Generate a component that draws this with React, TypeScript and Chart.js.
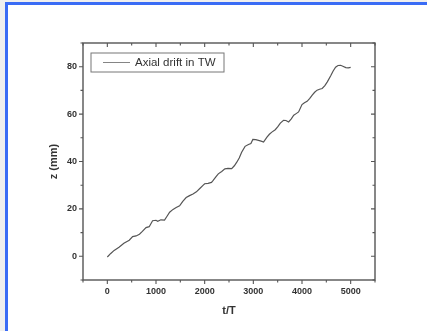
import React, { useEffect, useRef } from "react";
import { Chart, registerables } from "chart.js";

Chart.register(...registerables);

const seriesLabel = "Axial drift in TW";
const tValues = [
  0, 70, 140, 240, 340, 450, 520, 590, 660, 720, 795, 860, 930, 1000, 1035, 1100, 1175, 1230, 1280, 1350,
  1415, 1485, 1550, 1620, 1690, 1760, 1830, 1900, 1960, 2000, 2070, 2140, 2175, 2230, 2280, 2350, 2415,
  2480, 2555, 2610, 2660, 2710, 2760, 2830, 2900, 2950, 2990, 3050, 3105, 3160, 3210, 3280, 3330, 3380,
  3450, 3500, 3555, 3620, 3670, 3725, 3780, 3830, 3880, 3930, 4000, 4050, 4105, 4160, 4210, 4260, 4310,
  4360, 4415, 4470, 4520, 4590, 4640, 4690, 4740, 4795, 4850, 4900, 4950, 5000,
];
const zValues = [
  -0.3, 1.2, 2.5, 3.8, 5.5, 6.8, 8.3, 8.6, 9.3, 10.5, 12.1, 12.5, 15, 15.2, 14.8, 15.4, 15.3, 17, 18.6, 19.8,
  20.6, 21.3, 23.2, 24.8, 25.6, 26.3, 27.2, 28.6, 29.8, 30.6, 30.8, 31.2, 32, 33.5, 34.8, 35.8, 36.9,
  37.1, 37, 38.2, 39.7, 41.5, 43.9, 46.4, 47.2, 47.6, 49.3, 49.2, 48.9, 48.6, 48.2, 50.3, 51.5, 52.4,
  53.4, 54.6, 56.2, 57.4, 57.3, 56.7, 58, 59.5, 60.2, 60.9, 64, 64.8, 65.4, 66.6, 68, 69.2, 70.1,
  70.5, 70.8, 72, 73.6, 76.2, 78.2, 79.8, 80.5, 80.6, 80.1, 79.6, 79.5, 79.7,
];
const xTickLabels = [0, 1000, 2000, 3000, 4000, 5000];
const yTickLabels = [0, 20, 40, 60, 80];
const xTitle = "t/T";
const yTitle = "z (mm)";

const AXIS_COLOR = "#555";
const TEXT_COLOR = "#333";
const FONT = "'Liberation Sans', Arial, sans-serif";

const framePlugin = {
  id: "originFrame",
  afterDraw(chart: any) {
    const { ctx, chartArea } = chart;
    const { left, right, top, bottom } = chartArea;
    const xs = chart.scales.x;
    const ys = chart.scales.y;
    ctx.save();
    ctx.strokeStyle = AXIS_COLOR;
    ctx.lineWidth = 1.4;
    ctx.strokeRect(left, top, right - left, bottom - top);
    ctx.lineWidth = 1.1;
    ctx.beginPath();
    xs.ticks.forEach((t: any) => {
      const major = xTickLabels.includes(t.value);
      const len = major ? 4 : 2.5;
      const px = xs.getPixelForValue(t.value);
      ctx.moveTo(px, bottom);
      ctx.lineTo(px, bottom + len);
      ctx.moveTo(px, top);
      ctx.lineTo(px, top + len);
    });
    ys.ticks.forEach((t: any) => {
      const major = yTickLabels.includes(t.value);
      const len = major ? 4 : 2.5;
      const py = ys.getPixelForValue(t.value);
      ctx.moveTo(left, py);
      ctx.lineTo(left - len, py);
      ctx.moveTo(right, py);
      ctx.lineTo(right - len, py);
    });
    ctx.stroke();

    // legend
    const lx = left + 8;
    const ly = top + 10;
    const lw = 133;
    const lh = 19;
    ctx.strokeStyle = "#777";
    ctx.lineWidth = 1;
    ctx.strokeRect(lx, ly, lw, lh);
    ctx.strokeStyle = "#666";
    ctx.lineWidth = 0.8;
    ctx.beginPath();
    ctx.moveTo(lx + 12, ly + lh / 2);
    ctx.lineTo(lx + 39, ly + lh / 2);
    ctx.stroke();
    ctx.fillStyle = TEXT_COLOR;
    ctx.font = `11.5px ${FONT}`;
    ctx.textBaseline = "middle";
    ctx.textAlign = "left";
    ctx.fillText(chart.data.datasets[0].label, lx + 44, ly + lh / 2 + 0.5);
    ctx.restore();
  },
};

export default function App() {
  const ref = useRef<HTMLCanvasElement>(null);
  useEffect(() => {
    if (!ref.current) return;
    const points = tValues.map((t, i) => ({ x: t, y: zValues[i] }));
    const chart = new Chart(ref.current, {
      type: "line",
      data: {
        datasets: [
          {
            label: seriesLabel,
            data: points,
            borderColor: "#555",
            borderWidth: 1.2,
            pointRadius: 0,
            tension: 0,
            fill: false,
          },
        ],
      },
      options: {
        animation: false,
        responsive: false,
        layout: { padding: { left: 47, right: 52, top: 43, bottom: 13 } },
        plugins: { legend: { display: false }, tooltip: { enabled: false } },
        scales: {
          x: {
            type: "linear",
            min: -500,
            max: 5500,
            grid: { display: false, drawTicks: false },
            border: { display: false },
            afterFit: (s: any) => {
              s.height = 38;
            },
            ticks: {
              stepSize: 500,
              padding: 6,
              maxRotation: 0,
              autoSkip: false,
              color: TEXT_COLOR,
              font: { family: FONT, size: 9, weight: "bold" },
              callback: (v: any) => (xTickLabels.includes(Number(v)) ? String(v) : ""),
            },
            title: {
              display: true,
              text: xTitle,
              color: TEXT_COLOR,
              padding: 0,
              font: { family: FONT, size: 11, weight: "bold" },
            },
          },
          y: {
            type: "linear",
            min: -10,
            max: 90,
            grid: { display: false, drawTicks: false },
            border: { display: false },
            afterFit: (s: any) => {
              s.width = 36;
            },
            ticks: {
              stepSize: 10,
              padding: 6,
              autoSkip: false,
              color: TEXT_COLOR,
              font: { family: FONT, size: 9, weight: "bold" },
              callback: (v: any) => (yTickLabels.includes(Number(v)) ? String(v) : ""),
            },
            title: {
              display: true,
              text: yTitle,
              color: TEXT_COLOR,
              padding: 0,
              font: { family: FONT, size: 11, weight: "bold" },
            },
          },
        },
      },
      plugins: [framePlugin],
    });
    return () => chart.destroy();
  }, []);

  return (
    <div style={{ position: "fixed", left: 0, top: 0, width: 427, height: 331, background: "#efefef", overflow: "hidden" }}>
      <div
        style={{
          position: "absolute",
          left: 5,
          top: 2,
          width: 450,
          height: 360,
          border: "3px solid #3a6cf5",
          background: "#fff",
          boxSizing: "border-box",
        }}
      />
      <canvas ref={ref} width={427} height={331} style={{ position: "absolute", left: 0, top: 0, display: "block" }} />
    </div>
  );
}
